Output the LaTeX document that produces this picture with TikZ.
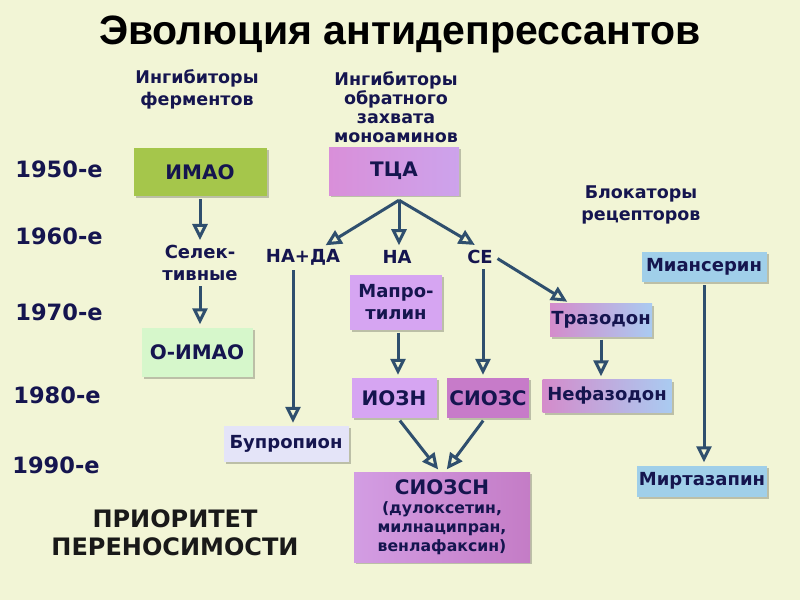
\documentclass[tikz,border=0pt]{standalone}
\usepackage{fontspec}
\setmainfont{DejaVu Sans}
\newfontfamily\titlefont{Liberation Sans}
\usetikzlibrary{arrows.meta,positioning,shadows}
\definecolor{bgcream}{HTML}{F2F5D6}
\definecolor{inknavy}{HTML}{15154F}
\definecolor{arrsteel}{HTML}{2F4F6E}
\definecolor{imaogreen}{HTML}{A5C64B}
\definecolor{oimaomint}{HTML}{D6F7CB}
\definecolor{tcaleft}{HTML}{D98FD9}
\definecolor{tcaright}{HTML}{CDA3EC}
\definecolor{lavbox}{HTML}{D6A5F2}
\definecolor{ssrimag}{HTML}{C77BC9}
\definecolor{bupropale}{HTML}{E4E4F8}
\definecolor{snrileft}{HTML}{D39DE3}
\definecolor{snriright}{HTML}{C47CC6}
\definecolor{trazpink}{HTML}{D48BCB}
\definecolor{trazblue}{HTML}{AACBF1}
\definecolor{skybox}{HTML}{A0CFE9}
\newcommand\boxfnt{\bfseries\fontsize{18}{22}\selectfont}
\newcommand\headfnt{\bfseries\fontsize{17.5}{22}\selectfont}
\tikzset{
  >={Triangle[open,length=16pt,width=15pt]},
  % texts
  titletext/.style={font=\titlefont\bfseries\fontsize{41}{46}\selectfont,text=black,inner sep=0pt},
  head/.style={font=\headfnt,text=inknavy,align=center,inner sep=1pt},
  decade/.style={font=\bfseries\fontsize{22.5}{26}\selectfont,text=inknavy,inner sep=1pt},
  lbl/.style={font=\boxfnt,text=inknavy,align=center,inner sep=2pt},
  motto/.style={font=\bfseries\fontsize{24}{28}\selectfont,text=black!90,align=center,inner sep=1pt},
  % boxes
  drug/.style={font=\boxfnt,text=inknavy,align=center,inner sep=0pt,
               drop shadow={shadow xshift=2pt,shadow yshift=-2pt,opacity=0.22,fill=black}},
  capbox/.style={drug,font=\bfseries\fontsize{20}{24}\selectfont},
  trazbox/.style={drug,left color=trazpink,right color=trazblue},
  skyblock/.style={drug,fill=skybox},
  % arrows
  arr/.style={->,draw=arrsteel,line width=3pt,shorten <=3pt,shorten >=3pt},
}
\begin{document}
\begin{tikzpicture}[x=1pt,y=-1pt]
\useasboundingbox (0,0) rectangle (800,600);
\fill[bgcream] (0,0) rectangle (800,600);
\node[titletext] (title) at (400,34) {Эволюция антидепрессантов};
\node[head] (enzh) at (197,89) {Ингибиторы\\ферментов};
\node[head,font=\bfseries\fontsize{17.5}{19}\selectfont] (reuph) at (396,107)
  {Ингибиторы\\обратного\\захвата\\моноаминов};
\node[head] (blockh) at (641,205) {Блокаторы\\рецепторов};
\foreach \yr/\dx/\dy in {1950/59/169,1960/59/236,1970/59/312,1980/57/395,1990/56/465}
  \node[decade] (d\yr) at (\dx,\dy) {\yr-е};
\node[motto] (motto) at (175,533) {ПРИОРИТЕТ\\ПЕРЕНОСИМОСТИ};

% ingibitory fermentov
\node[capbox,fill=imaogreen,minimum width=133pt,minimum height=48pt] (imao) at (200,172) {ИМАО};
\node[lbl] (sel) at (200,263) {Селек-\\тивные};
\node[capbox,fill=oimaomint,minimum width=111pt,minimum height=49pt] (oimao) at (197,352) {О-ИМАО};

% obratnyj zakhvat
\node[capbox,left color=tcaleft,right color=tcaright,minimum width=130pt,minimum height=48pt] (tca) at (394,171) {ТЦА};
\coordinate (fork) at ([xshift=5pt,yshift=-5pt]tca.south);
\node[lbl] (nada) at (303,257) {НА+ДА};
\node[lbl] (na) at (397,257) {НА};
\node[lbl] (se) at (480,257) {СЕ};
\node[drug,fill=lavbox,minimum width=92pt,minimum height=55pt] (mapro) at (396,302) {Мапро-\\тилин};
\node[capbox,fill=lavbox,minimum width=85pt,minimum height=40pt] (iozn) at (394,398) {ИОЗН};
\node[capbox,fill=ssrimag,minimum width=82pt,minimum height=40pt] (ssri) at (488,398) {СИОЗС};
\node[drug,fill=bupropale,minimum width=125pt,minimum height=36pt] (bupr) at (286,444) {Бупропион};
\node[drug,left color=snrileft,right color=snriright,minimum width=176pt,minimum height=90pt,
      font=\bfseries\fontsize{15.7}{19}\selectfont] (snri) at (442,517)
  {{\fontsize{20}{22}\selectfont СИОЗСН}\\(дулоксетин,\\милнаципран,\\венлафаксин)};

% blokatory
\node[trazbox,minimum width=102pt,minimum height=33pt] (traz) at (601,320) {Тразодон};
\node[trazbox,minimum width=129pt,minimum height=33pt] (nefaz) at (607,396) {Нефазодон};
\node[skyblock,minimum width=125pt,minimum height=30pt] (mians) at (704,267) {Миансерин};
\node[skyblock,minimum width=130pt,minimum height=31pt] (mirt) at (702,481) {Миртазапин};

\draw[arr] (imao) -- (sel);
\draw[arr] (sel) -- (sel |- oimao.north);
\draw[arr,shorten <=0pt] (fork) -- ([xshift=20pt]nada.north);
\draw[arr,shorten <=0pt] (fork) -- (fork |- na.north);
\draw[arr,shorten <=0pt,shorten >=6pt] (fork) -- (se.north);
\draw[arr] ([xshift=7pt]bupr.north |- nada.south) -- ([xshift=7pt]bupr.north);
\draw[arr] ([xshift=3pt]se.south) -- ([xshift=3pt]se.south |- ssri.north);
\draw[arr] (se.east) -- ([xshift=20pt]traz.north west);
\draw[arr] ([xshift=2pt]mapro.south) -- ([xshift=2pt]mapro.south |- iozn.north);
\draw[arr] ([xshift=4pt]iozn.south) -- ([xshift=-2pt]snri.north);
\draw[arr] ([xshift=-3pt]ssri.south) -- ([xshift=3pt]snri.north);
\draw[arr] (traz) -- (traz.south |- nefaz.north);
\draw[arr] (mians) -- (mians |- mirt.north);
\end{tikzpicture}
\end{document}
